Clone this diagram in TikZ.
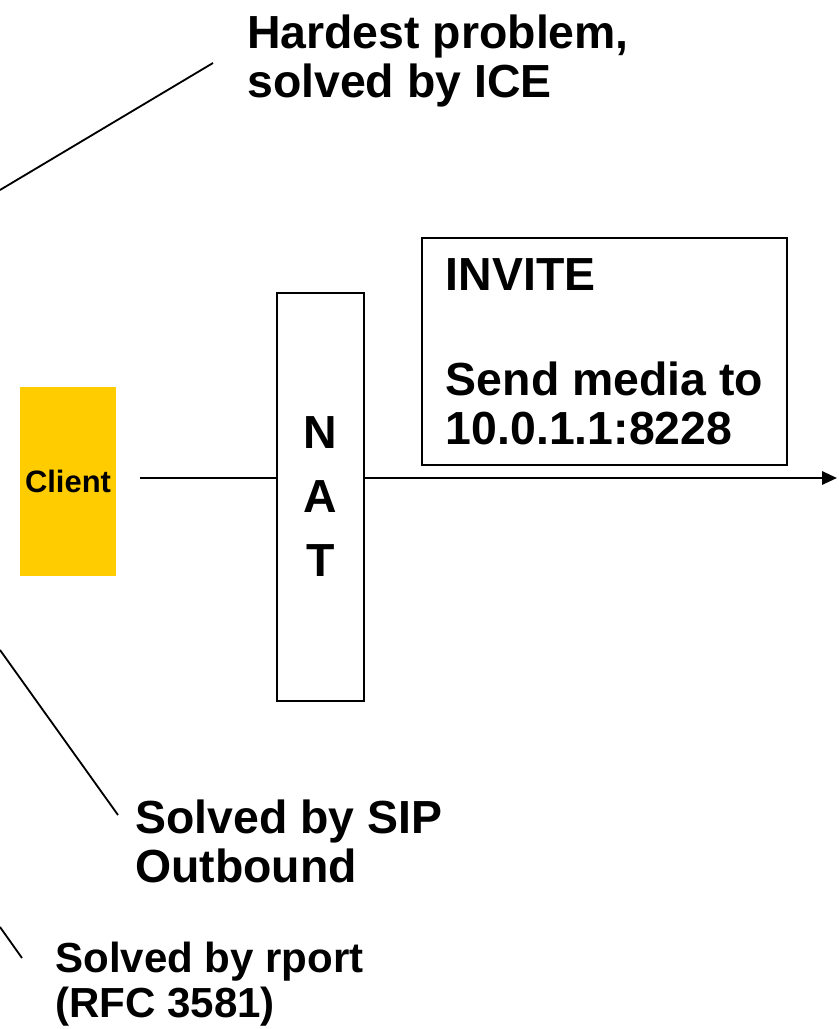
\documentclass[tikz,border=0pt]{standalone}
\usepackage{fontspec}
\setmainfont{Liberation Sans}
\usetikzlibrary{arrows.meta}
\definecolor{clientyellow}{HTML}{FFCC00}
\tikzset{
  bigtext/.style={font=\bfseries\fontsize{33}{34.9}\selectfont, align=left, inner sep=0pt},
  smalltext/.style={font=\bfseries\fontsize{29.9}{32}\selectfont, align=left, inner sep=0pt},
  pointer/.style={line width=1.3pt},
  flow/.style={line width=1.8pt}
}
\begin{document}
\begin{tikzpicture}[x=0.025cm, y=-0.025cm]
\useasboundingbox (0,0) rectangle (838,1029);

\node[fill=clientyellow, minimum width=2.4cm, minimum height=4.725cm, inner sep=0pt,
  font=\bfseries\fontsize{22}{24}\selectfont] (client) at (68,481.5) {Client};

\node[draw, line width=1.5pt, minimum width=2.175cm, minimum height=10.2cm, align=center, inner sep=0pt,
  font=\bfseries\fontsize{33}{45.5}\selectfont] (nat) at (320.5,497) {N\\A\\T};

\node[draw, line width=1.5pt, minimum width=9.125cm, minimum height=5.675cm, bigtext] (invite) at (604.5,351.5)
  {INVITE\\[39.8pt]Send media to\\10.0.1.1:8228};

\node[bigtext, anchor=north west] (ice) at (247,15) {Hardest problem,\\solved by ICE};
\node[bigtext, anchor=north west] (outbound) at (135,800) {Solved by SIP\\Outbound};
\node[smalltext, anchor=north west] (rport) at (55,942) {Solved by rport\\(RFC 3581)};

\coordinate (cl) at (140,478);
\coordinate (tip) at (837,478);

\draw[flow] 
(cl) -- (cl -| nat.west)
;
\draw[flow, -{Triangle[length=0.375cm, width=0.33cm]}] 
(cl -| nat.east) -- (tip)
;

\begin{scope}[pointer]
\coordinate (ice0) at (0,190);
\coordinate (ice1) at (213,63);
\coordinate (out0) at (0,650);
\coordinate (out1) at (118,815);
\coordinate (rp0) at (0,927);
\coordinate (rp1) at (22,958);
\draw (ice0) -- (ice1);
\draw (out0) -- (out1);
\draw (rp0) -- (rp1);
\end{scope}

\end{tikzpicture}
\end{document}
